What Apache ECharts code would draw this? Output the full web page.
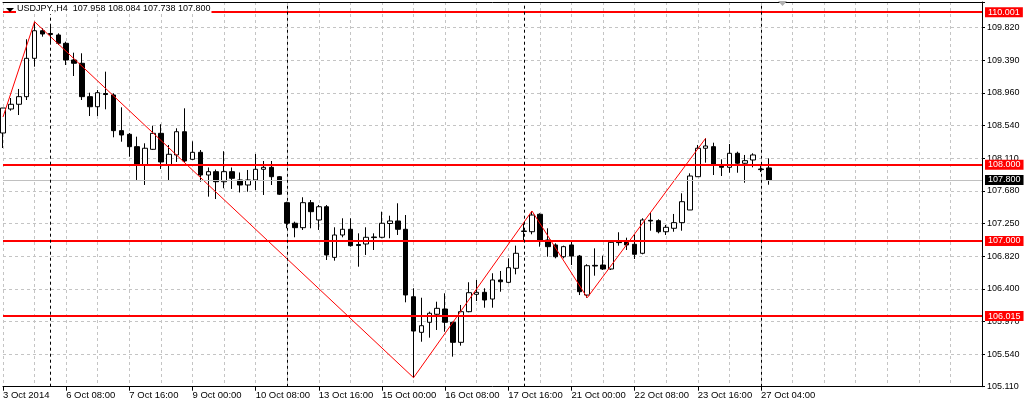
<!DOCTYPE html>
<html><head><meta charset="utf-8">
<script src="https://cdn.jsdelivr.net/npm/echarts@6/dist/echarts.min.js"></script>
<style>html,body{margin:0;padding:0;background:#fff}#c{width:1024px;height:404px}</style>
</head><body><div id="c"></div>
<script>
// ---- data (USDJPY., H4) ----
const opens = [
108.416,108.731,108.793,108.893,109.396,109.758,109.722,109.702,109.593,109.374,
109.331,108.893,108.761,108.934,108.915,108.447,108.399,108.237,107.997,108.202,
108.412,107.997,108.128,108.433,108.071,108.163,107.865,107.909,107.777,107.909,
107.800,107.734,107.800,107.940,107.966,107.843,107.502,107.232,107.174,107.502,
107.275,107.449,106.785,107.078,107.153,106.953,106.960,107.052,107.048,107.229,
107.262,107.153,106.268,105.801,105.933,106.038,106.107,105.933,105.670,106.072,
106.300,106.326,106.238,106.488,106.457,106.641,107.124,107.121,107.350,107.012,
106.947,106.793,106.947,106.802,106.290,106.680,106.684,106.632,106.986,106.990,
106.956,106.838,107.271,107.266,107.121,107.166,107.240,107.406,107.843,108.216,
108.237,107.997,107.966,108.150,108.019,108.062,107.944,107.958];
const closes = [
108.744,108.793,108.893,109.396,109.758,109.715,109.709,109.593,109.374,109.331,
108.893,108.761,108.945,108.921,108.447,108.390,108.237,107.997,108.216,108.412,
108.036,108.137,108.433,108.049,108.163,107.865,107.909,107.777,107.909,107.822,
107.734,107.800,107.940,107.966,107.843,107.613,107.232,107.174,107.502,107.384,
107.449,106.816,107.078,107.153,106.938,106.940,107.048,107.044,107.232,107.262,
107.153,106.291,105.818,105.888,106.051,106.116,105.933,105.670,106.072,106.321,
106.326,106.225,106.488,106.465,106.649,106.838,107.131,107.340,106.999,106.925,
106.793,106.925,106.802,106.334,106.675,106.671,106.632,106.982,106.978,106.947,
106.825,107.275,107.262,107.121,107.179,107.240,107.515,107.852,108.216,108.246,
107.997,107.966,108.150,108.019,108.053,108.128,107.936,107.800];
const lows = [
108.219,108.709,108.652,108.849,109.286,109.680,109.593,109.571,109.308,109.164,
108.849,108.639,108.639,108.727,108.360,108.302,108.105,107.800,107.734,108.193,
107.944,107.800,108.036,108.027,108.062,107.777,107.581,107.550,107.691,107.682,
107.636,107.646,107.668,107.603,107.734,107.603,107.166,107.048,107.144,107.166,
107.144,106.750,106.741,107.048,106.925,106.662,106.816,106.881,107.035,107.035,
107.078,106.195,105.206,105.678,105.731,105.832,105.809,105.482,105.626,106.064,
106.212,106.124,106.124,106.334,106.444,106.562,106.990,107.087,106.925,106.793,
106.772,106.772,106.684,106.290,106.255,106.544,106.619,106.619,106.938,106.881,
106.763,106.825,107.134,107.100,107.078,107.121,107.134,107.406,107.843,108.027,
107.865,107.852,107.895,107.895,107.764,107.966,107.904,107.738];
const highs = [
108.744,108.875,108.994,109.646,109.876,109.790,109.833,109.724,109.614,109.470,
109.462,108.945,108.980,109.221,108.937,108.753,108.416,108.368,108.281,108.512,
108.531,108.259,108.478,108.740,108.307,108.193,107.964,107.937,108.177,107.964,
107.898,107.931,108.141,108.049,108.049,107.852,107.515,107.253,107.573,107.537,
107.471,107.471,107.179,107.297,107.297,107.100,107.179,107.100,107.384,107.331,
107.494,107.340,106.379,106.255,106.072,106.203,106.313,105.941,106.160,106.458,
106.488,106.379,106.576,106.606,106.772,106.938,107.232,107.393,107.363,107.166,
106.969,106.938,106.990,106.816,106.694,106.903,106.807,106.999,107.114,107.043,
107.088,107.298,107.371,107.284,107.210,107.354,107.625,107.887,108.259,108.347,
108.289,108.071,108.272,108.171,108.128,108.150,107.983,108.084];

const xTickLabels = ['3 Oct 2014','6 Oct 08:00','7 Oct 16:00','9 Oct 00:00','10 Oct 08:00',
  '13 Oct 16:00','15 Oct 00:00','16 Oct 08:00','17 Oct 16:00','21 Oct 00:00','22 Oct 08:00',
  '23 Oct 16:00','27 Oct 04:00'];
const xTickStep = 8;
const yTickLabels = ['105.110','105.540','105.970','106.400','106.820','107.250',
  '107.680','108.110','108.540','108.960','109.390','109.820'];
const levels = [110.001, 108.000, 107.000, 106.015];
const levelLabels = ['110.001','108.000','107.000','106.015'];
const bidPrice = 107.800;
const bidLabel = '107.800';
const weekStarts = [6, 36, 66, 96];
const zigzagBars = [0, 4, 52, 67, 74, 89];
const zigzagPrices = [108.626, 109.876, 105.206, 107.393, 106.255, 108.347];
const symbolName = 'USDJPY.';
const timeframe = 'H4';

// ---- layout ----
const slotCount = 125;
const priceMin = 105.0877, priceMax = 110.1349;
const gridIdxMax = 11.788;
const FONT = '"Liberation Sans", Arial, sans-serif';

const categories = Array.from({length: slotCount}, (_, i) => String(i));
const candles = opens.map((o, i) => [o, closes[i], lows[i], highs[i]]);
const zigzag = zigzagBars.map((b, i) => [b, zigzagPrices[i]]);
const lastIdx = opens.length - 1;
const fmt = v => v.toFixed(3);
const headerText = symbolName + ',' + timeframe + '  ' + fmt(opens[lastIdx]) + ' ' +
  fmt(highs[lastIdx]) + ' ' + fmt(lows[lastIdx]) + ' ' + fmt(closes[lastIdx]);

const tickShown = i => i % xTickStep === 0 && i / xTickStep < xTickLabels.length;

const markData = [];
levels.forEach((lv, i) => markData.push({
  yAxis: lv,
  lineStyle: {color: '#ff0000', width: 2, type: 'solid'},
  label: {show: true, position: 'end', formatter: levelLabels[i], color: '#fff',
    backgroundColor: '#ff0000', padding: [1, 3, 0, 3], fontSize: 9, fontFamily: FONT, distance: 3}
}));
markData.push({
  yAxis: bidPrice,
  lineStyle: {color: '#c0c0c0', width: 1, type: 'solid'},
  label: {show: true, position: 'end', formatter: bidLabel, color: '#fff',
    backgroundColor: '#000', padding: [1, 3, 0, 3], fontSize: 9, fontFamily: FONT, distance: 3}
});
weekStarts.forEach(w => markData.push({
  xAxis: categories[w],
  lineStyle: {color: '#000', width: 1, type: [3, 3]},
  label: {show: false}
}));

const chart = echarts.init(document.getElementById('c'), null, {renderer: 'canvas'});
chart.setOption({
  animation: false,
  backgroundColor: '#fff',
  grid: {left: 2, right: 42, top: 2, bottom: 17.3, containLabel: false},
  xAxis: [{
    type: 'category', data: categories, boundaryGap: false,
    axisLine: {show: true, lineStyle: {color: '#000', width: 1}},
    axisTick: {show: true, interval: tickShown, length: 4, lineStyle: {color: '#000'}},
    axisLabel: {show: true, interval: tickShown, align: 'left', margin: 4,
      formatter: (v, i) => xTickLabels[i / xTickStep], fontSize: 9.5, color: '#000', fontFamily: FONT},
    splitLine: {show: true, interval: i => i % 4 === 0, lineStyle: {color: '#c4c4c4', type: [3, 3], width: 1}}
  }, {
    type: 'category', data: categories, boundaryGap: false, position: 'top', z: 5,
    axisLine: {show: true, lineStyle: {color: '#000', width: 1}},
    axisTick: {show: false}, axisLabel: {show: false}, splitLine: {show: false}
  }],
  yAxis: [{
    type: 'value', position: 'right', min: priceMin, max: priceMax, show: false, scale: true
  }, {
    type: 'value', position: 'right', min: 0, max: gridIdxMax, interval: 1,
    axisLine: {show: true, lineStyle: {color: '#000', width: 1}},
    axisTick: {show: true, length: 3, lineStyle: {color: '#000'}},
    axisLabel: {show: true, margin: 5, padding: [0, 0, 3, 0], fontSize: 9, color: '#000', fontFamily: FONT,
      formatter: v => Number.isInteger(v) ? yTickLabels[v] : ''},
    splitLine: {show: true, lineStyle: {color: '#c4c4c4', type: [3, 3], width: 1}}
  }],
  series: [{
    type: 'candlestick', xAxisIndex: 0, yAxisIndex: 0, data: candles, barWidth: 5, z: 3,
    clip: true,
    itemStyle: {color: '#fff', color0: '#000', borderColor: '#000', borderColor0: '#000', borderWidth: 1},
    markLine: {silent: true, symbol: ['none', 'none'], animation: false, precision: 3, data: markData}
  }, {
    type: 'line', xAxisIndex: 0, yAxisIndex: 0, data: zigzag, symbol: 'none', z: 4, clip: true,
    lineStyle: {color: '#ff0000', width: 1}
  }],
  graphic: [
    {type: 'polygon', z: 100, shape: {points: [[6, 8], [14, 8], [10, 12]]}, style: {fill: '#000'}},
    {type: 'text', z: 100, left: 16, top: 3,
      style: {text: headerText, font: '9px ' + FONT, fill: '#000', backgroundColor: '#fff', padding: [1, 1]}},
    {type: 'polygon', z: 100, shape: {points: [[778, 1], [787, 1], [782.5, 6]]}, style: {fill: '#b0b0b0'}}
  ]
});
</script></body></html>
